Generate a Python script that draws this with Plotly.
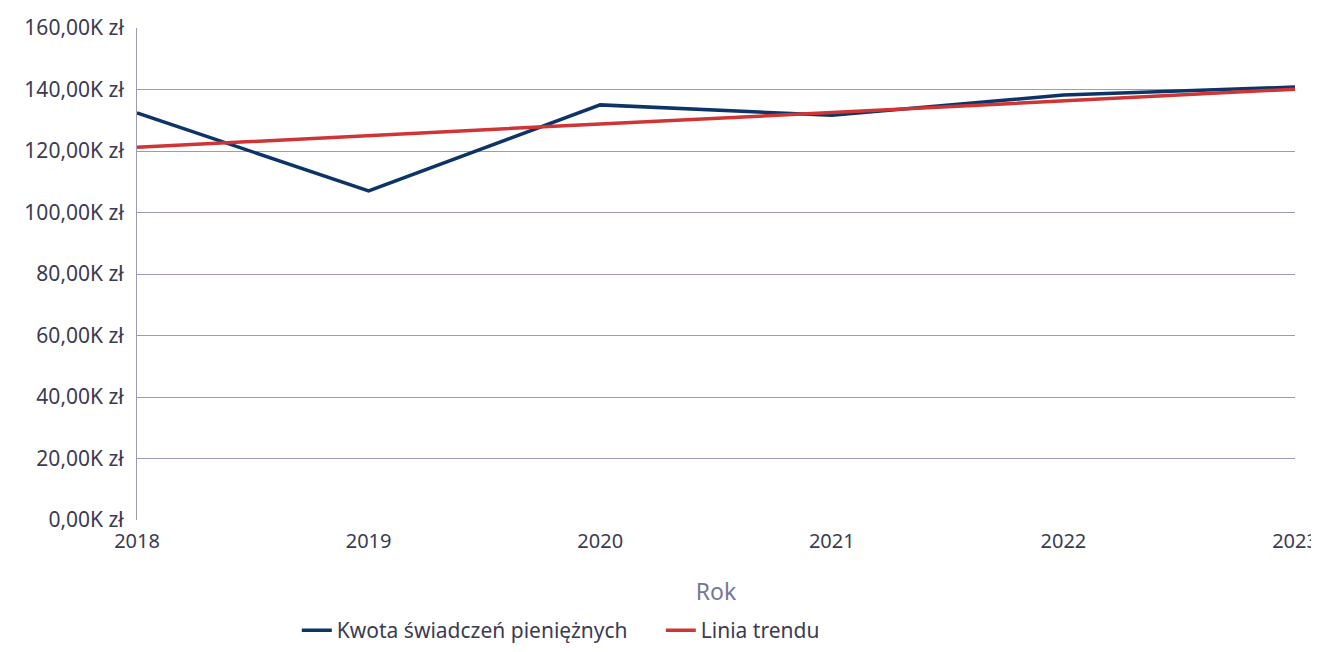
import plotly.graph_objects as go

years = [2018, 2019, 2020, 2021, 2022, 2023]
amounts = [132.4, 107.0, 135.0, 131.6, 138.2, 140.8]
trend = [121.2, 125.1, 128.8, 132.5, 136.3, 140.1]
y_ticks = [0, 20, 40, 60, 80, 100, 120, 140, 160]
y_labels = [f"{v},00K zł" for v in y_ticks]

TEXT = "#3b3b52"
GRID = "#9b9bb8"
FONT = "Noto Sans, DejaVu Sans, sans-serif"

fig = go.Figure()
fig.add_trace(
    go.Scatter(
        x=years,
        y=amounts,
        mode="lines",
        name="Kwota świadczeń pieniężnych",
        line=dict(color="#0d3466", width=3.5),
    )
)
fig.add_trace(
    go.Scatter(
        x=years,
        y=trend,
        mode="lines",
        name="Linia trendu",
        line=dict(color="#d03535", width=3.5),
    )
)

# the page puts the plot 8px in from the top-left corner, so the figure is sized to fit
fig.update_layout(
    width=1311,
    height=636,
    paper_bgcolor="white",
    plot_bgcolor="white",
    margin=dict(l=129, r=24, t=20, b=124, autoexpand=False),
    font=dict(family=FONT, size=21, color=TEXT),
    legend=dict(
        orientation="h",
        x=0.138,
        xanchor="left",
        y=-0.183,
        yanchor="top",
        font=dict(size=21, color=TEXT),
        itemwidth=30,
        entrywidth=319,
        entrywidthmode="pixels",
    ),
    xaxis=dict(
        range=[2018, 2023],
        tickvals=years,
        ticktext=[str(y) for y in years],
        tickfont=dict(size=20),
        ticklabeloverflow="allow",
        showgrid=False,
        zeroline=False,
        showline=False,
        ticks="",
        automargin=False,
        ticklabelstandoff=7,
        title=dict(text="Rok", font=dict(size=23, color="#75759a"), standoff=30),
    ),
    yaxis=dict(
        range=[0, 160],
        tickvals=y_ticks,
        ticktext=y_labels,
        tickfont=dict(size=21),
        showgrid=True,
        gridcolor=GRID,
        gridwidth=1,
        zeroline=False,
        showline=True,
        linecolor=GRID,
        linewidth=1,
        ticks="",
        automargin=False,
        ticklabelstandoff=8,
    ),
)

fig.write_html("out.html")
